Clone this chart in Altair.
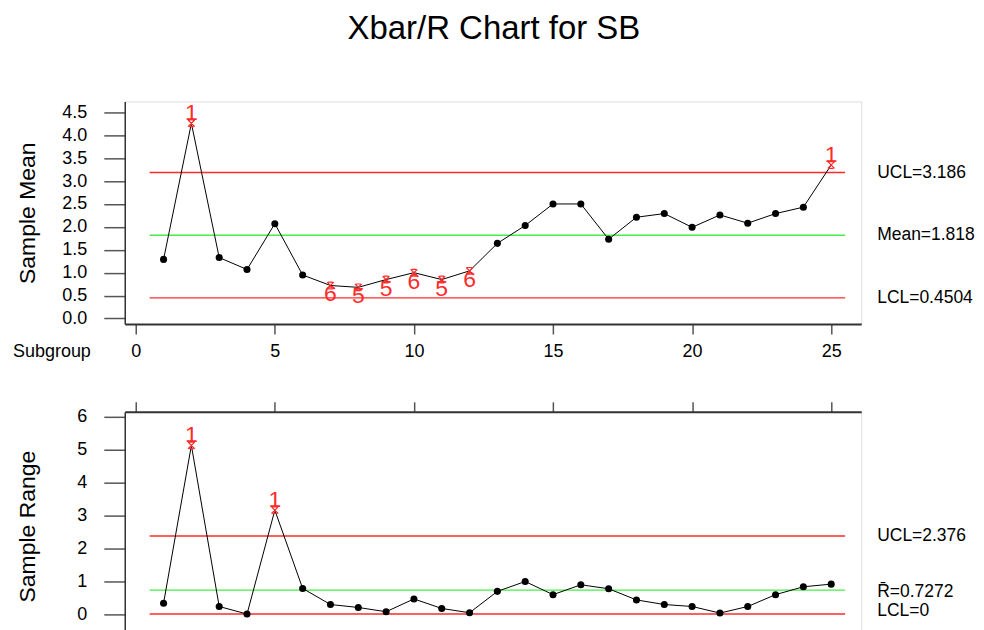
import altair as alt
import pandas as pd

FONT = "Liberation Sans"

# ---------------- data ----------------
subgroups = list(range(1, 26))
xbar_values = [1.29, 4.26, 1.33, 1.07, 2.07, 0.95, 0.72, 0.68, 0.85, 1.00,
               0.85, 1.04, 1.64, 2.03, 2.50, 2.50, 1.73, 2.21, 2.29, 1.99,
               2.26, 2.08, 2.29, 2.43, 3.35]
range_values = [0.33, 5.13, 0.23, 0.00, 3.16, 0.78, 0.29, 0.20, 0.07, 0.46,
                0.17, 0.04, 0.69, 0.99, 0.59, 0.89, 0.77, 0.43, 0.29, 0.23,
                0.03, 0.23, 0.59, 0.83, 0.91]

xbar_flag_subgroups = [2, 7, 8, 9, 10, 11, 12, 25]
xbar_flag_labels = ["1", "6", "5", "5", "6", "5", "6", "1"]
xbar_flag_above = [True, False, False, False, False, False, False, True]
range_flag_subgroups = [2, 5]
range_flag_labels = ["1", "1"]
range_flag_above = [True, True]

limit_names = ["UCL", "Center", "LCL"]
xbar_limit_values = [3.186, 1.818, 0.4504]
xbar_limit_texts = ["UCL=3.186", "Mean=1.818", "LCL=0.4504"]
range_limit_values = [2.376, 0.7272, 0.0]
range_limit_texts = ["UCL=2.376", "R\u0304=0.7272", "LCL=0"]

x_ticks = [0, 5, 10, 15, 20, 25]
xbar_ticks = [0.0, 0.5, 1.0, 1.5, 2.0, 2.5, 3.0, 3.5, 4.0, 4.5]
range_ticks = [0, 1, 2, 3, 4, 5, 6]

# ---------------- styling ----------------
RED = "#ff2a2a"
GREEN = "#44ee44"
LIMIT_COLORS = [RED, GREEN, RED]
W = 738
STAR = "M-1,-1L1,1M-1,1L1,-1M-0.7,-1L0.7,-1M-0.7,1L0.7,1"
xscale = alt.Scale(domain=[-0.395, 26.08], nice=False, zero=False)


def panel(values, flag_sg, flag_lbl, flag_above, lim_vals, lim_txts,
          ydomain, height, yticks, yfmt, ytitle, x_top, label_dy):
    flagged = set(flag_sg)
    pts = pd.DataFrame({"subgroup": subgroups, "value": values})
    pts["flag"] = [s in flagged for s in subgroups]
    fl = pd.DataFrame({"subgroup": flag_sg, "label": flag_lbl, "above": flag_above})
    fl["value"] = [values[s - 1] for s in flag_sg]
    lims = pd.DataFrame({"name": limit_names, "value": lim_vals, "text": lim_txts})

    if x_top:
        xaxis = alt.Axis(orient="top", values=x_ticks, labels=False, title=None,
                         tickSize=10, grid=False, tickColor="#555555",
                         domainColor="#333333", domainWidth=2, tickWidth=1.5)
    else:
        xaxis = alt.Axis(orient="bottom", values=x_ticks, title=None, tickSize=10,
                         grid=False, tickColor="#555555", domainColor="#333333",
                         domainWidth=2, tickWidth=1.5, labelPadding=9,
                         labelFontSize=18, labelFont=FONT, labelColor="black")
    yscale = alt.Scale(domain=ydomain, nice=False, zero=False)
    yaxis = alt.Axis(values=yticks, format=yfmt, title=ytitle, tickSize=21,
                     grid=False, tickColor="#555555", domainColor="#333333",
                     domainWidth=1.5, tickWidth=1.5, labelPadding=17,
                     labelFontSize=18, labelFont=FONT, labelColor="black",
                     titleFont=FONT, titleFontSize=23, titleFontWeight="normal",
                     titleColor="black", titleX=-97, titleBaseline="middle",
                     titleAngle=270)

    X = lambda f: alt.X(f, type="quantitative", scale=xscale, axis=xaxis)
    Y = lambda f: alt.Y(f, type="quantitative", scale=yscale, axis=yaxis)

    rules = alt.Chart(lims).mark_rule(strokeWidth=1.4).encode(
        x=alt.XDatum(0.5, type="quantitative", scale=xscale, axis=xaxis),
        x2=alt.X2Datum(25.5),
        y=Y("value"),
        color=alt.Color("name:N", scale=alt.Scale(domain=limit_names, range=LIMIT_COLORS),
                        legend=None),
    )
    line = alt.Chart(pts).mark_line(color="black", strokeWidth=1).encode(
        x=X("subgroup"), y=Y("value"))
    dots = alt.Chart(pts).transform_filter("!datum.flag").mark_circle(
        color="black", size=50, opacity=1).encode(x=X("subgroup"), y=Y("value"))
    stars = alt.Chart(fl).mark_point(shape=STAR, filled=False, color=RED,
                                     strokeWidth=1.2, size=45, opacity=1).encode(
        x=X("subgroup"), y=Y("value"))
    above = alt.Chart(fl).transform_filter("datum.above").mark_text(
        baseline="alphabetic", dy=-3, fontSize=23, font=FONT, color=RED).encode(
        x=X("subgroup"), y=Y("value"), text="label:N")
    below = alt.Chart(fl).transform_filter("!datum.above").mark_text(
        baseline="top", dy=-2, fontSize=23, font=FONT, color=RED).encode(
        x=X("subgroup"), y=Y("value"), text="label:N")

    layers = [rules, line, dots, stars, above, below]
    for i, name in enumerate(limit_names):
        one = lims[lims["name"] == name]
        layers.append(alt.Chart(one).mark_text(
            align="left", baseline="middle", fontSize=17.5, font=FONT,
            color="black", dy=label_dy[i]).encode(
            x=alt.value(W + 16), y=Y("value"), text="text:N"))
    if not x_top:
        layers.append(alt.Chart(pd.DataFrame({"t": ["Subgroup"]})).mark_text(
            align="left", baseline="alphabetic", fontSize=18, font=FONT,
            color="black").encode(x=alt.value(-112), y=alt.value(height + 33),
                                  text="t:N"))
    return alt.layer(*layers).properties(width=W, height=height)


top = panel(xbar_values, xbar_flag_subgroups, xbar_flag_labels, xbar_flag_above,
            xbar_limit_values, xbar_limit_texts, [-0.12, 4.737], 223,
            xbar_ticks, ".1f", "Sample Mean", False, [0, 0, 0])
bottom = panel(range_values, range_flag_subgroups, range_flag_labels, range_flag_above,
               range_limit_values, range_limit_texts, [-0.8, 6.152], 229,
               range_ticks, "d", "Sample Range", True, [0, 2, -3])

chart = alt.vconcat(top, bottom, spacing=38).properties(
    title=alt.TitleParams("Xbar/R Chart for SB", fontSize=33, font=FONT,
                          fontWeight="normal", color="black", anchor="middle",
                          offset=55),
    padding={"left": 4, "top": 4, "right": 0, "bottom": 0},
).configure_view(stroke="#505050", strokeWidth=1.5).configure(
    font=FONT, background="white")

chart.save("out.html", embed_options={"renderer": "svg", "actions": False})
